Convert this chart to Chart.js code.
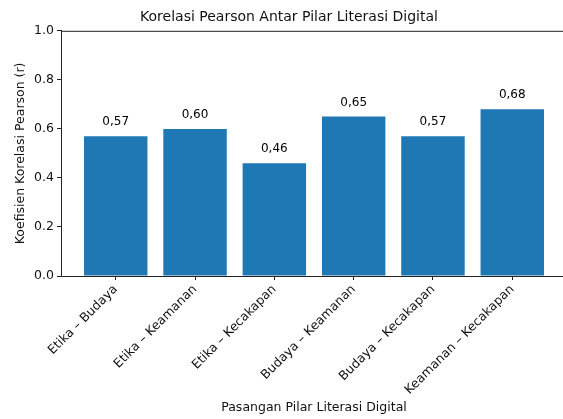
<!DOCTYPE html>
<html>
<head>
<meta charset="utf-8">
<script src="https://cdn.jsdelivr.net/npm/chart.js@4.4.1/dist/chart.umd.min.js"></script>
<style>
  html, body { margin: 0; padding: 0; background: #fff; overflow: hidden; }
  canvas { display: block; }
</style>
</head>
<body>
<canvas id="chart" width="567" height="419"></canvas>
<script>
// data
const pairs = [
    'Etika – Budaya',
    'Etika – Keamanan',
    'Etika – Kecakapan',
    'Budaya – Keamanan',
    'Budaya – Kecakapan',
    'Keamanan – Kecakapan'
];
const pearsonR = [0.57, 0.60, 0.46, 0.65, 0.57, 0.68];
const yTicks = [0.0, 0.2, 0.4, 0.6, 0.8, 1.0];

const font = "'DejaVu Sans', sans-serif";

// values above each bar, with a comma as decimal mark
const barLabels = {
    id: 'barLabels',
    afterDatasetsDraw(chart) {
        let ctx = chart.ctx;
        let meta = chart.getDatasetMeta(0);
        ctx.save();
        ctx.fillStyle = '#000';
        ctx.font = '12px ' + font;
        ctx.textAlign = 'center';
        ctx.textBaseline = 'middle';
        meta.data.forEach((bar, i) => {
            ctx.fillText(pearsonR[i].toFixed(2).replace('.', ','), bar.x, bar.y - 14);
        });
        ctx.restore();
    }
};

// top spine like matplotlib
const topSpine = {
    id: 'topSpine',
    afterDraw(chart) {
        let a = chart.chartArea;
        let ctx = chart.ctx;
        ctx.save();
        ctx.strokeStyle = '#222';
        ctx.lineWidth = 1;
        ctx.beginPath();
        ctx.moveTo(a.left, a.top + 0.5);
        ctx.lineTo(a.right, a.top + 0.5);
        ctx.stroke();
        ctx.restore();
    }
};

new Chart(document.getElementById('chart'), {
    type: 'bar',
    data: {
        datasets: [{
            data: pairs.map((p, i) => ({ x: i, y: pearsonR[i] })),
            backgroundColor: '#1f77b4',
            borderWidth: 0,
            barPercentage: 0.8,
            categoryPercentage: 1.0
        }]
    },
    options: {
        responsive: false,
        animation: false,
        layout: { padding: { left: 11, right: 0, top: 0, bottom: 0 } },
        plugins: {
            legend: { display: false },
            tooltip: { enabled: false },
            title: {
                display: true,
                text: 'Korelasi Pearson Antar Pilar Literasi Digital',
                color: '#111',
                font: { family: font, size: 14, weight: 'normal' },
                padding: { top: 9, bottom: 5 }
            }
        },
        scales: {
            x: {
                type: 'linear',
                offset: false,
                min: -0.69,
                max: 5.69,
                afterBuildTicks: (scale) => {
                    scale.ticks = pairs.map((p, i) => ({ value: i }));
                },
                afterFit: (scale) => { scale.height = 143; },
                ticks: {
                    autoSkip: false,
                    minRotation: 45,
                    maxRotation: 45,
                    padding: 2,
                    color: '#111',
                    font: { family: font, size: 12.5 },
                    callback: (value) => pairs[value]
                },
                grid: { offset: false, drawOnChartArea: false, drawTicks: true, tickLength: 4, color: '#222' },
                border: { display: true, color: '#222', width: 1 },
                title: {
                    display: true,
                    text: 'Pasangan Pilar Literasi Digital',
                    color: '#111',
                    font: { family: font, size: 12.5 },
                    padding: { top: 4, bottom: 4 }
                }
            },
            y: {
                min: 0,
                max: 1,
                afterBuildTicks: (scale) => {
                    scale.ticks = yTicks.map(v => ({ value: v }));
                },
                afterFit: (scale) => { scale.width = 50; },
                ticks: {
                    padding: 3,
                    color: '#111',
                    font: { family: font, size: 12.5 },
                    callback: (value) => value.toFixed(1)
                },
                grid: { drawOnChartArea: false, drawTicks: true, tickLength: 4, color: '#222' },
                border: { display: true, color: '#222', width: 1 },
                title: {
                    display: true,
                    text: 'Koefisien Korelasi Pearson (r)',
                    color: '#111',
                    font: { family: font, size: 12.5 },
                    padding: { top: 2, bottom: 2 }
                }
            }
        }
    },
    plugins: [barLabels, topSpine]
});
</script>
</body>
</html>
